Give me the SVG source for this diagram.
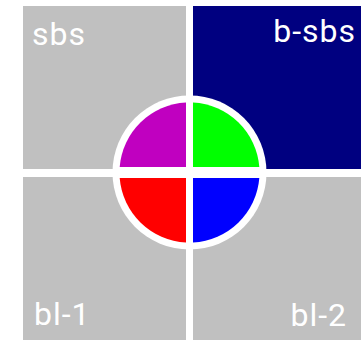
<svg xmlns="http://www.w3.org/2000/svg" width="361" height="340" viewBox="0 0 361 340">
  <style>
    .q { fill: #c0c0c0; }
    .lbl { fill: #ffffff; font-family: Roboto, "Open Sans", sans-serif; font-size: 32px; font-weight: 400; letter-spacing: 1px; }
  </style>
  <rect x="0" y="0" width="361" height="340" fill="#ffffff"/>
  <g id="sbs">
    <rect class="q" x="23" y="6" width="163" height="163"/>
    <text class="lbl" x="32" y="45">sbs</text>
  </g>
  <g id="b-sbs">
    <rect x="193" y="6" width="168" height="163" fill="#000080"/>
    <text class="lbl" x="356" y="42" text-anchor="end">b-sbs</text>
  </g>
  <g id="bl-1">
    <rect class="q" x="23" y="177" width="163" height="163"/>
    <text class="lbl" x="34" y="325">bl-1</text>
  </g>
  <g id="bl-2">
    <rect class="q" x="193" y="177" width="168" height="163"/>
    <text class="lbl" x="347" y="326" text-anchor="end">bl-2</text>
  </g>
  <g id="center">
    <circle cx="189.5" cy="172.5" r="77" fill="#ffffff"/>
    <path d="M186,167 L186,102.6 A70,70 0 0 0 119.7,167 Z" fill="#c000c0"/>
    <path d="M193,167 L193,102.6 A70,70 0 0 1 259.3,167 Z" fill="#00ff00"/>
    <path d="M186,178 L119.7,178 A70,70 0 0 0 186,242.4 Z" fill="#ff0000"/>
    <path d="M193,178 L259.3,178 A70,70 0 0 1 193,242.4 Z" fill="#0000ff"/>
  </g>
</svg>
